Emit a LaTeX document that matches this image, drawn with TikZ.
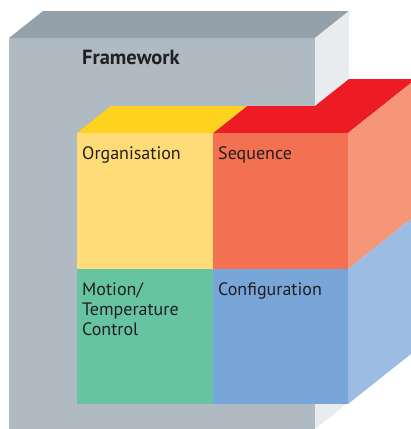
\documentclass[tikz,border=0pt]{standalone}
\usepackage{fontspec}
\setmainfont{PT Sans}
\definecolor{fwfront}{HTML}{AFBAC2}
\definecolor{fwtop}{HTML}{95A1AA}
\definecolor{fwside}{HTML}{E8ECEF}
\definecolor{ytop}{HTML}{FED320}
\definecolor{yfront}{HTML}{FFDC78}
\definecolor{rtop}{HTML}{ED1C24}
\definecolor{ofront}{HTML}{F37052}
\definecolor{oside}{HTML}{F59678}
\definecolor{gfront}{HTML}{66C4A2}
\definecolor{bfront}{HTML}{79A6D9}
\definecolor{bside}{HTML}{9DBCE3}
\definecolor{txt}{HTML}{231F20}
\begin{document}
\begin{tikzpicture}[x=1pt,y=-1pt,
  lbl/.style={anchor=base west,inner sep=0pt,text=txt,font=\fontsize{18}{20}\selectfont,align=left}]
\useasboundingbox (0,0) rectangle (411,429);
\clip (0,0) rectangle (411,429);
% framework box
\fill[fwfront] (9,38) -- (315,38) -- (315,429) -- (9,429) -- cycle;
\fill[fwtop] (9,38) -- (43,11) -- (349,11) -- (315,38) -- cycle;
\fill[fwside] (315,38) -- (349,11) -- (349,402) -- (315,429) -- cycle;
% cube tops
\fill[rtop] (213,133) -- (348,133) -- (416,79) -- (349,79) -- (315,106) -- (247,106) -- cycle;
\fill[ytop] (77,133) -- (213,133) -- (247,106) -- (111,106) -- cycle;
% cube side
\fill[oside] (348,133) -- (416,79) -- (416,215) -- (348,269) -- cycle;
\fill[bside] (348,269) -- (416,215) -- (416,350) -- (348,404) -- cycle;
% cube fronts
\fill[yfront] (77,133) rectangle (213,269);
\fill[ofront] (213,133) rectangle (348,269);
\fill[gfront] (77,269) rectangle (213,404);
\fill[bfront] (213,269) rectangle (348,404);
% labels
\node[lbl,font=\bfseries\fontsize{20.5}{22}\selectfont] (fw) at (82,64) {Framework};
\node[lbl] (org) at (82,159) {Organisation};
\node[lbl] (seq) at (218,159) {Sequence};
\node[lbl] (mot) at (82,335) {Motion/\\Temperature\\Control};
\node[lbl] (cfg) at (218,295) {Configuration};
\end{tikzpicture}
\end{document}
